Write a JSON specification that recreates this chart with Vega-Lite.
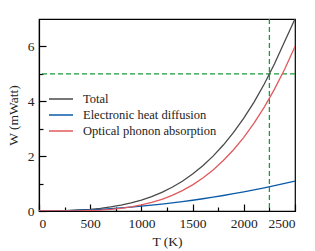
{
  "$schema": "https://vega.github.io/schema/vega-lite/v6.json",
  "width": 256,
  "height": 192,
  "autosize": {"type": "none"},
  "padding": {"left": 39, "top": 19, "right": 20, "bottom": 40},
  "background": "white",
  "config": {
    "view": {"stroke": "black", "strokeWidth": 1.2},
    "font": "Liberation Serif",
    "axis": {"labelFont": "Liberation Serif", "titleFont": "Liberation Serif", "labelFontSize": 13.5, "titleFontSize": 13.5, "titleFontWeight": "normal", "labelColor": "#222", "titleColor": "#222", "domainColor": "black", "tickColor": "black", "grid": false, "domainWidth": 1.2, "tickWidth": 1.2}
  },
  "datasets": {
    "curves": [
      {"T": 0, "series": "Total", "W": 0},
      {"T": 100, "series": "Total", "W": 0.0018},
      {"T": 200, "series": "Total", "W": 0.0077},
      {"T": 300, "series": "Total", "W": 0.0186},
      {"T": 400, "series": "Total", "W": 0.0361},
      {"T": 500, "series": "Total", "W": 0.0618},
      {"T": 600, "series": "Total", "W": 0.098},
      {"T": 700, "series": "Total", "W": 0.1468},
      {"T": 800, "series": "Total", "W": 0.2108},
      {"T": 900, "series": "Total", "W": 0.2929},
      {"T": 1000, "series": "Total", "W": 0.396},
      {"T": 1100, "series": "Total", "W": 0.523},
      {"T": 1200, "series": "Total", "W": 0.678},
      {"T": 1300, "series": "Total", "W": 0.865},
      {"T": 1400, "series": "Total", "W": 1.086},
      {"T": 1500, "series": "Total", "W": 1.346},
      {"T": 1600, "series": "Total", "W": 1.65},
      {"T": 1700, "series": "Total", "W": 2.001},
      {"T": 1800, "series": "Total", "W": 2.404},
      {"T": 1900, "series": "Total", "W": 2.864},
      {"T": 2000, "series": "Total", "W": 3.385},
      {"T": 2100, "series": "Total", "W": 3.972},
      {"T": 2200, "series": "Total", "W": 4.631},
      {"T": 2300, "series": "Total", "W": 5.367},
      {"T": 2400, "series": "Total", "W": 6.185},
      {"T": 2500, "series": "Total", "W": 7.0},
      {"T": 0, "series": "Electronic heat diffusion", "W": 0},
      {"T": 100, "series": "Electronic heat diffusion", "W": 0.0017},
      {"T": 200, "series": "Electronic heat diffusion", "W": 0.007},
      {"T": 300, "series": "Electronic heat diffusion", "W": 0.0157},
      {"T": 400, "series": "Electronic heat diffusion", "W": 0.0279},
      {"T": 500, "series": "Electronic heat diffusion", "W": 0.0436},
      {"T": 600, "series": "Electronic heat diffusion", "W": 0.0628},
      {"T": 700, "series": "Electronic heat diffusion", "W": 0.0855},
      {"T": 800, "series": "Electronic heat diffusion", "W": 0.1116},
      {"T": 900, "series": "Electronic heat diffusion", "W": 0.1413},
      {"T": 1000, "series": "Electronic heat diffusion", "W": 0.1744},
      {"T": 1100, "series": "Electronic heat diffusion", "W": 0.211},
      {"T": 1200, "series": "Electronic heat diffusion", "W": 0.2511},
      {"T": 1300, "series": "Electronic heat diffusion", "W": 0.2947},
      {"T": 1400, "series": "Electronic heat diffusion", "W": 0.3418},
      {"T": 1500, "series": "Electronic heat diffusion", "W": 0.3924},
      {"T": 1600, "series": "Electronic heat diffusion", "W": 0.4465},
      {"T": 1700, "series": "Electronic heat diffusion", "W": 0.504},
      {"T": 1800, "series": "Electronic heat diffusion", "W": 0.565},
      {"T": 1900, "series": "Electronic heat diffusion", "W": 0.6296},
      {"T": 2000, "series": "Electronic heat diffusion", "W": 0.6976},
      {"T": 2100, "series": "Electronic heat diffusion", "W": 0.7691},
      {"T": 2200, "series": "Electronic heat diffusion", "W": 0.8441},
      {"T": 2300, "series": "Electronic heat diffusion", "W": 0.9226},
      {"T": 2400, "series": "Electronic heat diffusion", "W": 1.0045},
      {"T": 2500, "series": "Electronic heat diffusion", "W": 1.09},
      {"T": 0, "series": "Optical phonon absorption", "W": 0},
      {"T": 100, "series": "Optical phonon absorption", "W": 0.0001},
      {"T": 200, "series": "Optical phonon absorption", "W": 0.0007},
      {"T": 300, "series": "Optical phonon absorption", "W": 0.0029},
      {"T": 400, "series": "Optical phonon absorption", "W": 0.0082},
      {"T": 500, "series": "Optical phonon absorption", "W": 0.0182},
      {"T": 600, "series": "Optical phonon absorption", "W": 0.0352},
      {"T": 700, "series": "Optical phonon absorption", "W": 0.0613},
      {"T": 800, "series": "Optical phonon absorption", "W": 0.0992},
      {"T": 900, "series": "Optical phonon absorption", "W": 0.1516},
      {"T": 1000, "series": "Optical phonon absorption", "W": 0.2216},
      {"T": 1100, "series": "Optical phonon absorption", "W": 0.312},
      {"T": 1200, "series": "Optical phonon absorption", "W": 0.427},
      {"T": 1300, "series": "Optical phonon absorption", "W": 0.57},
      {"T": 1400, "series": "Optical phonon absorption", "W": 0.744},
      {"T": 1500, "series": "Optical phonon absorption", "W": 0.954},
      {"T": 1600, "series": "Optical phonon absorption", "W": 1.203},
      {"T": 1700, "series": "Optical phonon absorption", "W": 1.497},
      {"T": 1800, "series": "Optical phonon absorption", "W": 1.839},
      {"T": 1900, "series": "Optical phonon absorption", "W": 2.234},
      {"T": 2000, "series": "Optical phonon absorption", "W": 2.687},
      {"T": 2100, "series": "Optical phonon absorption", "W": 3.203},
      {"T": 2200, "series": "Optical phonon absorption", "W": 3.787},
      {"T": 2300, "series": "Optical phonon absorption", "W": 4.444},
      {"T": 2400, "series": "Optical phonon absorption", "W": 5.18},
      {"T": 2500, "series": "Optical phonon absorption", "W": 6.0}
    ],
    "vref": [{"T": 2250}],
    "href": [{"W": 5}]
  },
  "layer": [
    {
      "data": {"name": "vref"},
      "mark": {"type": "rule", "color": "#1a9a3c", "strokeDash": [5, 3], "strokeWidth": 1.3},
      "encoding": {
        "x": {"field": "T", "type": "quantitative", "scale": {"domain": [0, 2500], "nice": false},
          "axis": {"orient": "bottom", "values": [250, 750, 1250, 1750, 2250], "labels": false, "domain": false, "tickSize": -4, "title": null}}
      }
    },
    {
      "data": {"name": "href"},
      "mark": {"type": "rule", "color": "#1a9a3c", "strokeDash": [5, 3], "strokeWidth": 1.3},
      "encoding": {
        "y": {"field": "W", "type": "quantitative", "scale": {"domain": [0, 7], "nice": false},
          "axis": {"orient": "left", "values": [1, 3, 5], "labels": false, "domain": false, "tickSize": -4, "title": null}}
      }
    },
    {
      "data": {"name": "curves"},
      "mark": {"type": "line", "strokeWidth": 1.3, "clip": true},
      "encoding": {
        "x": {"field": "T", "type": "quantitative", "scale": {"domain": [0, 2500], "nice": false},
          "axis": {"orient": "bottom", "values": [0, 500, 1000, 1500, 2000, 2500], "format": "d", "tickSize": -7, "labelPadding": 12, "title": "T (K)", "titlePadding": 5}},
        "y": {"field": "W", "type": "quantitative", "scale": {"domain": [0, 7], "nice": false},
          "axis": {"orient": "left", "values": [0, 2, 4, 6], "format": "d", "tickSize": -7, "labelPadding": 12, "title": "W (mWatt)", "titlePadding": 7}},
        "color": {"field": "series", "type": "nominal",
          "scale": {"domain": ["Total", "Electronic heat diffusion", "Optical phonon absorption"], "range": ["#4a4a4a", "#0a5aa8", "#e05a5e"]},
          "legend": {"title": null, "orient": "none", "legendX": 9, "legendY": 72, "symbolType": "stroke", "symbolSize": 576, "symbolStrokeWidth": 1.5, "clipHeight": 16, "labelFont": "Liberation Serif", "labelFontSize": 12.5, "labelColor": "#222", "rowPadding": 0, "labelOffset": 9}}
      }
    }
  ],
  "resolve": {"axis": {"x": "independent", "y": "independent"}}
}
